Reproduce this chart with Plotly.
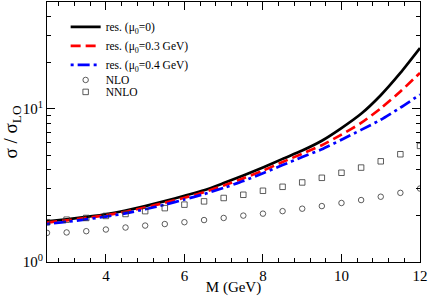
import plotly.graph_objects as go

# Data
M = [2.5, 3.0, 3.5, 4.0, 4.5, 5.0, 5.5, 6.0, 6.5, 7.0, 7.5, 8.0, 8.5, 9.0, 9.5,
     10.0, 10.5, 11.0, 11.5, 12.0]
res_mu0 = [1.84, 1.90, 1.97, 2.05, 2.17, 2.32, 2.50, 2.71, 2.94, 3.28, 3.68, 4.15,
           4.72, 5.35, 6.20, 7.50, 9.30, 12.3, 17.2, 25.0]
res_mu03 = [1.81, 1.87, 1.94, 2.02, 2.13, 2.27, 2.44, 2.63, 2.86, 3.16, 3.52, 3.95,
            4.50, 5.10, 5.80, 6.80, 8.10, 10.1, 13.0, 17.2]
res_mu04 = [1.77, 1.83, 1.90, 1.98, 2.08, 2.21, 2.37, 2.56, 2.78, 3.05, 3.38, 3.80,
            4.30, 4.85, 5.45, 6.30, 7.30, 8.50, 10.2, 12.4]
nlo = [1.55, 1.56, 1.59, 1.63, 1.68, 1.73, 1.77, 1.82, 1.88, 1.94, 2.01, 2.07,
       2.15, 2.23, 2.32, 2.43, 2.54, 2.67, 2.83, 3.02]
nnlo = [1.82, 1.89, 1.94, 2.00, 2.06, 2.15, 2.25, 2.37, 2.49, 2.62, 2.75, 2.92,
        3.10, 3.31, 3.55, 3.83, 4.14, 4.55, 5.06, 5.74]

x_ticks = [4, 6, 8, 10, 12]
y_ticks = [1, 10]
y_ticktext = ["10<sup>0</sup>", "10<sup>1</sup>"]
y_minor = [2, 3, 4, 5, 6, 7, 8, 9, 20, 30, 40]

FONT = "Liberation Serif"

fig = go.Figure()
fig.add_trace(go.Scatter(x=M, y=res_mu0, mode="lines", name="res. (μ<sub>0</sub>=0)",
                         line=dict(color="black", width=2.7, shape="spline", smoothing=0.6)))
fig.add_trace(go.Scatter(x=M, y=res_mu03, mode="lines", name="res. (μ<sub>0</sub>=0.3 GeV)",
                         line=dict(color="#ff0000", width=2.7, dash="10px,5px",
                                   shape="spline", smoothing=0.6)))
fig.add_trace(go.Scatter(x=M, y=res_mu04, mode="lines", name="res. (μ<sub>0</sub>=0.4 GeV)",
                         line=dict(color="#0000ff", width=2.7, dash="3px,4px,12px,4px",
                                   shape="spline", smoothing=0.6)))
fig.add_trace(go.Scatter(x=M, y=nlo, mode="markers", name="NLO", legend="legend2",
                         marker=dict(symbol="circle-open", size=5.5, color="#333333",
                                     line=dict(width=0.8))))
fig.add_trace(go.Scatter(x=M, y=nnlo, mode="markers", name="NNLO", legend="legend3",
                         marker=dict(symbol="square-open", size=5.5, color="#333333",
                                     line=dict(width=0.8))))

axis_common = dict(
    showline=True, linecolor="black", linewidth=1.2, mirror="allticks",
    ticks="inside", ticklen=8, tickwidth=1, tickcolor="black",
    showgrid=False, zeroline=False, automargin=False,
    tickfont=dict(family=FONT, size=15, color="black"),
)

fig.update_xaxes(range=[2.5, 12], tickvals=x_ticks,
                 minor=dict(dtick=0.4, tick0=0, ticks="inside", ticklen=4,
                            tickcolor="black", showgrid=False),
                 title=dict(text="M (GeV)", font=dict(family=FONT, size=15, color="black"),
                            standoff=4),
                 **axis_common)
fig.update_yaxes(type="log", range=[0, 1.699], tickvals=y_ticks, ticktext=y_ticktext,
                 minor=dict(tickvals=y_minor, ticks="inside", ticklen=4,
                            tickcolor="black", showgrid=False),
                 title=dict(text="σ / σ<sub>LO</sub>", font=dict(family=FONT, size=19, color="black"),
                            standoff=0),
                 **axis_common)

legend_common = dict(xanchor="left", yanchor="top", bgcolor="rgba(0,0,0,0)", borderwidth=0,
                     font=dict(family=FONT, size=11.5, color="black"), tracegroupgap=0)

fig.update_layout(
    width=429, height=296,
    margin=dict(l=47, r=9, t=2, b=34),
    paper_bgcolor="white", plot_bgcolor="white",
    font=dict(family=FONT, color="black"),
    legend=dict(x=0.05, y=0.96, **legend_common),
    legend2=dict(x=0.05, y=0.756, **legend_common),
    legend3=dict(x=0.05, y=0.71, **legend_common),
)

fig.write_html("out.html", config={"displayModeBar": False},
               post_script="document.body.style.margin='0';")
